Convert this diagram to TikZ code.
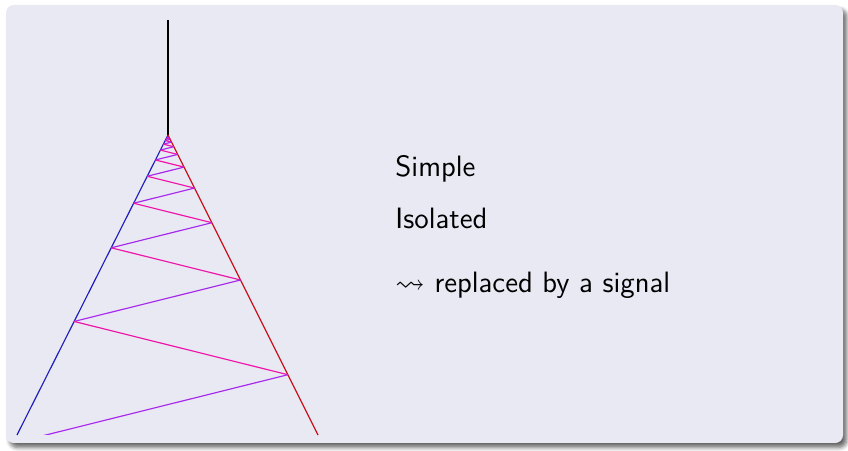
\documentclass[tikz,border=0pt]{standalone}
\usepackage{amssymb}
\usepackage{tikz}
\usetikzlibrary{calc,shadows.blur}

\definecolor{framebg}{RGB}{233,233,243}
\definecolor{leftline}{RGB}{30,30,190}
\definecolor{rightline}{RGB}{200,20,30}
\definecolor{zigpink}{RGB}{240,20,170}
\definecolor{zigviolet}{RGB}{170,40,240}

\begin{document}
\begin{tikzpicture}[
  x=0.428pt, y=-0.428pt,
  frame/.style={fill=framebg,rounded corners=3.4pt,
    blur shadow={shadow xshift=1.6pt,shadow yshift=-1.9pt,shadow blur steps=6,shadow opacity=60}},
  wire/.style={line width=0.8pt,black},
  side/.style={line width=0.5pt},
  zig/.style={line width=0.5pt},
  txt/.style={anchor=base west,inner sep=0pt,font=\fontsize{12.6}{15}\selectfont\sffamily}
]
  \useasboundingbox (0,0) rectangle (848,451);
  \path[frame] (6,5) rectangle (843,443);

  \coordinate (hang) at (168,20);
  \coordinate (top) at (168,135);
  \coordinate (bl) at (17,435);
  \coordinate (br) at (318,435);

  \draw[wire] (hang) -- (top);
  \draw[side,leftline] (top) -- (bl);
  \draw[side,rightline] (top) -- (br);

  % zigzag, shrinking toward the apex
  \begin{scope}
    \clip (0,0) rectangle (848,435);
    \foreach \k in {0,...,19}{
      \pgfmathsetmacro\ta{0.00675*1.2857^\k}
      \pgfmathsetmacro\tb{0.00675*1.2857^(\k+1)}
      \ifodd\k
        \draw[zig,zigviolet] ($(top)!\ta!(br)$) -- ($(top)!\tb!(bl)$);
      \else
        \draw[zig,zigpink] ($(top)!\ta!(bl)$) -- ($(top)!\tb!(br)$);
      \fi
    }
  \end{scope}

  \node[txt] (simple) at (395,177) {Simple};
  \node[txt] (isolated) at (395,229) {Isolated};
  \node[txt] (signal) at (395,293) {$\leadsto$ replaced by a signal};
\end{tikzpicture}
\end{document}
